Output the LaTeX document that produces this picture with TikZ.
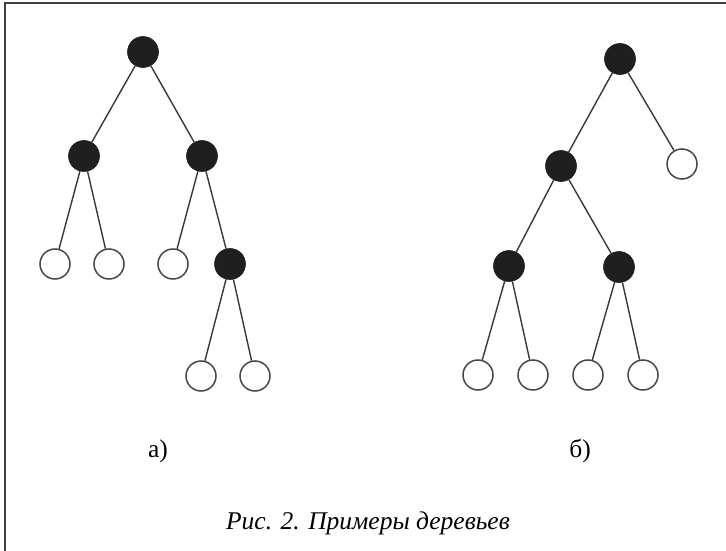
\documentclass[tikz,border=0pt]{standalone}
\usepackage{fontspec}
\setmainfont{Liberation Serif}
\begin{document}
\begin{tikzpicture}[x=1pt,y=-1pt,
  full/.style={circle,fill=black!88,draw=black!88,line width=0.6pt,minimum size=31pt,inner sep=0pt},
  empty/.style={circle,fill=white,draw=black!72,line width=1.5pt,minimum size=30pt,inner sep=0pt},
  edge/.style={draw=black!78,line width=1.4pt},
  lbl/.style={font=\fontsize{25.5}{28}\selectfont,inner sep=0pt}]
\useasboundingbox (0,0) rectangle (726,551);
\draw[black!75,line width=2pt] (4.5,551) -- (4.5,3) -- (726,3);
% tree a
\node[full] (a0) at (143,52) {};
\node[full] (a1) at (84,156) {};
\node[full] (a2) at (202,156) {};
\node[empty] (a3) at (55,264) {};
\node[empty] (a4) at (109,264) {};
\node[empty] (a5) at (173,264) {};
\node[full] (a6) at (230,264) {};
\node[empty] (a7) at (201,376) {};
\node[empty] (a8) at (255,376) {};
\foreach \u/\v in {a0/a1,a0/a2,a1/a3,a1/a4,a2/a5,a2/a6,a6/a7,a6/a8}
  \draw[edge] (\u) -- (\v);
% tree b
\node[full] (b0) at (620,59) {};
\node[full] (b1) at (561,166) {};
\node[empty] (b2) at (682,164) {};
\node[full] (b3) at (509,266) {};
\node[full] (b4) at (619,267) {};
\node[empty] (b5) at (478,375) {};
\node[empty] (b6) at (533,375) {};
\node[empty] (b7) at (588,375) {};
\node[empty] (b8) at (643,375) {};
\foreach \u/\v in {b0/b1,b0/b2,b1/b3,b1/b4,b3/b5,b3/b6,b4/b7,b4/b8}
  \draw[edge] (\u) -- (\v);
\node[lbl] (la) at (158,451) {а)};
\node[lbl] (lb) at (580,451) {б)};
\node[lbl] (cap) at (368,523) {\itshape Рис. 2. Примеры деревьев};
\end{tikzpicture}
\end{document}
